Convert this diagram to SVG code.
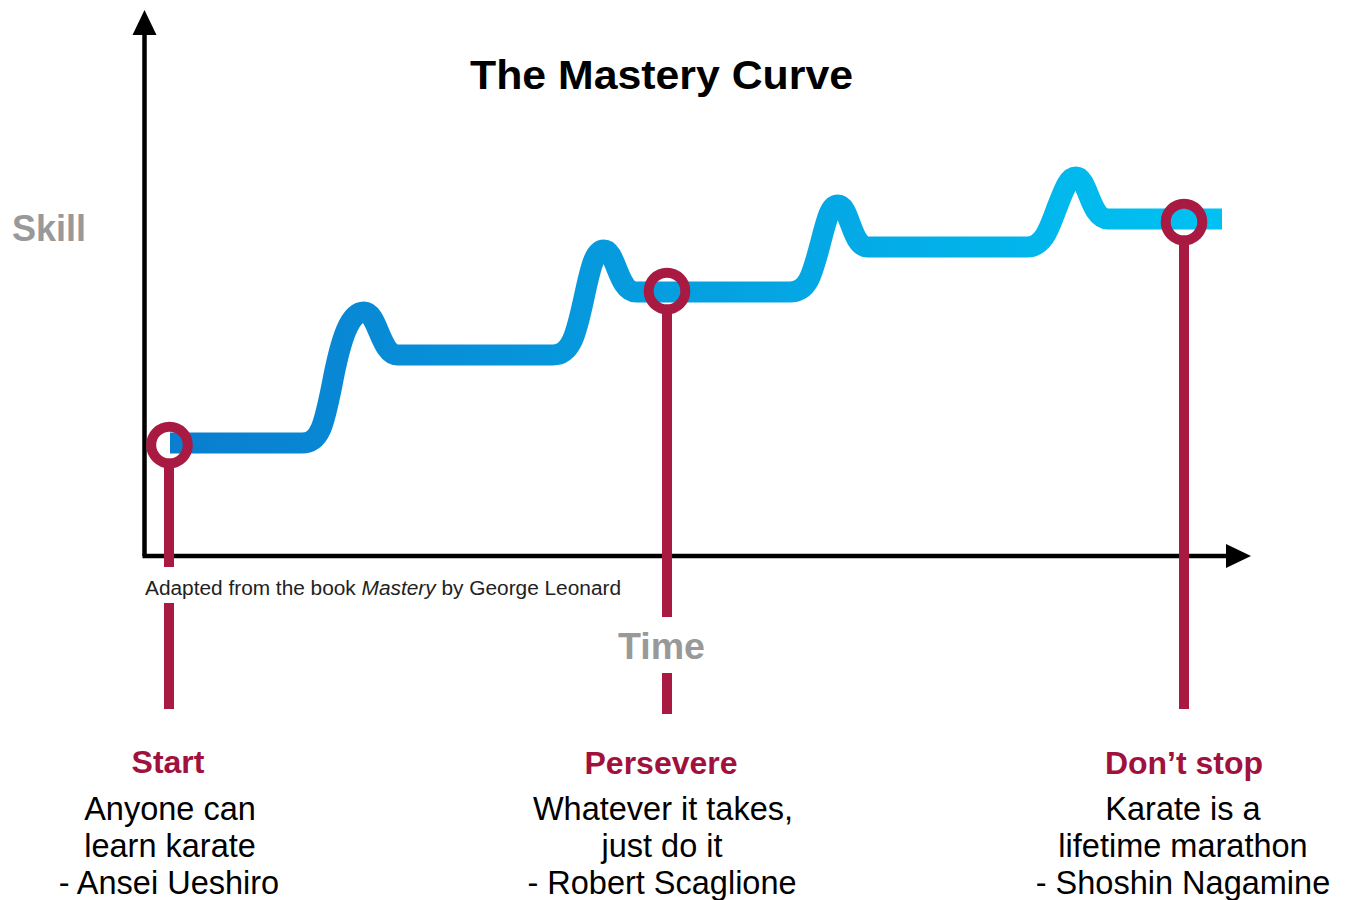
<svg xmlns="http://www.w3.org/2000/svg" width="1349" height="900" viewBox="0 0 1349 900">
  <style>
    .axis { stroke: #000; stroke-width: 4.5; fill: none; }
    .head { fill: #000; }
    .curve { fill: none; stroke: url(#skillGrad); stroke-width: 21; stroke-linejoin: round; }
    .ring { fill: none; stroke: #a81a42; stroke-width: 10; }
    .pin { stroke: #a81a42; stroke-width: 10; }
    .title { font-family: "Liberation Sans", Arial, sans-serif; font-weight: bold; font-size: 40px; fill: #000; }
    .axislabel { font-family: "Liberation Sans", Arial, sans-serif; font-weight: bold; font-size: 36px; fill: #999; }
    .note { font-family: "Liberation Sans", Arial, sans-serif; font-size: 20px; fill: #222; }
    .head-label { font-family: "Liberation Sans", Arial, sans-serif; font-weight: bold; font-size: 32px; fill: #a0123d; text-anchor: middle; }
    .quote { font-family: "Liberation Sans", Arial, sans-serif; font-size: 32.5px; fill: #000; text-anchor: middle; }
  </style>
  <defs>
    <linearGradient id="skillGrad" gradientUnits="userSpaceOnUse" x1="170" y1="0" x2="1222" y2="0">
      <stop offset="0" stop-color="#0a7dcf"/>
      <stop offset="0.5" stop-color="#05a0e0"/>
      <stop offset="1" stop-color="#00c2f2"/>
    </linearGradient>
  </defs>
  <rect width="1349" height="900" fill="#fff"/>

  <!-- axes -->
  <g id="axes">
    <line class="axis" x1="144.5" y1="33" x2="144.5" y2="556"/>
    <line class="axis" x1="142.5" y1="556" x2="1228" y2="556"/>
    <polygon class="head" points="144.5,10 132.5,35 156.5,35"/>
    <polygon class="head" points="1251,556 1226,544 1226,568"/>
  </g>

  <g id="title">
    <text class="title" x="470" y="89" textLength="383" lengthAdjust="spacingAndGlyphs">The Mastery Curve</text>
  </g>
  <g id="skill-label">
    <text class="axislabel" x="12" y="241">Skill</text>
  </g>
  <g id="time-label">
    <text class="axislabel" x="618" y="659" textLength="87" lengthAdjust="spacingAndGlyphs">Time</text>
  </g>
  <g id="source-note">
    <text class="note" x="145" y="595" textLength="476" lengthAdjust="spacingAndGlyphs">Adapted from the book <tspan font-style="italic">Mastery</tspan> by George Leonard</text>
  </g>

  <!-- skill curve: plateaus with spikes -->
  <g id="curve">
    <path class="curve" d="M170,443 H302
      C320,443 324,425 332,385 C341,337 350,312 364,312 C378,312 380,355 398,355 H553
      C571,355 576,335 584,298 C591,265 595,250 604,250 C616,250 618,292 636,292 H790
      C808,292 812,275 820,245 C827,218 830,205 838,205 C850,205 851,247 868,247 H1027
      C1045,247 1050,225 1058,205 C1065,187 1069,177 1076,177 C1088,177 1090,219 1108,219 H1222"/>
  </g>

  <!-- connectors from curve markers to captions -->
  <g id="connectors">
    <line class="pin" x1="169" y1="467" x2="169" y2="567"/>
    <line class="pin" x1="169" y1="603" x2="169" y2="709"/>
    <line class="pin" x1="667" y1="314" x2="667" y2="617"/>
    <line class="pin" x1="667" y1="673" x2="667" y2="714"/>
    <line class="pin" x1="1184" y1="245" x2="1184" y2="709"/>
  </g>

  <g id="start">
    <circle class="ring" cx="169.5" cy="445" r="18.3"/>
    <text class="head-label" x="168" y="773">Start</text>
    <text class="quote" x="170" y="820">Anyone can</text>
    <text class="quote" x="170" y="857">learn karate</text>
    <text class="quote" x="169" y="894">- Ansei Ueshiro</text>
  </g>

  <g id="persevere">
    <circle class="ring" cx="667" cy="291" r="18.3"/>
    <text class="head-label" x="661" y="774">Persevere</text>
    <text class="quote" x="663" y="820">Whatever it takes,</text>
    <text class="quote" x="662" y="857">just do it</text>
    <text class="quote" x="662" y="894">- Robert Scaglione</text>
  </g>

  <g id="dont-stop">
    <circle class="ring" cx="1184" cy="222" r="18.3"/>
    <text class="head-label" x="1184" y="774">Don’t stop</text>
    <text class="quote" x="1183" y="820">Karate is a</text>
    <text class="quote" x="1183" y="857">lifetime marathon</text>
    <text class="quote" x="1183" y="894">- Shoshin Nagamine</text>
  </g>
</svg>
